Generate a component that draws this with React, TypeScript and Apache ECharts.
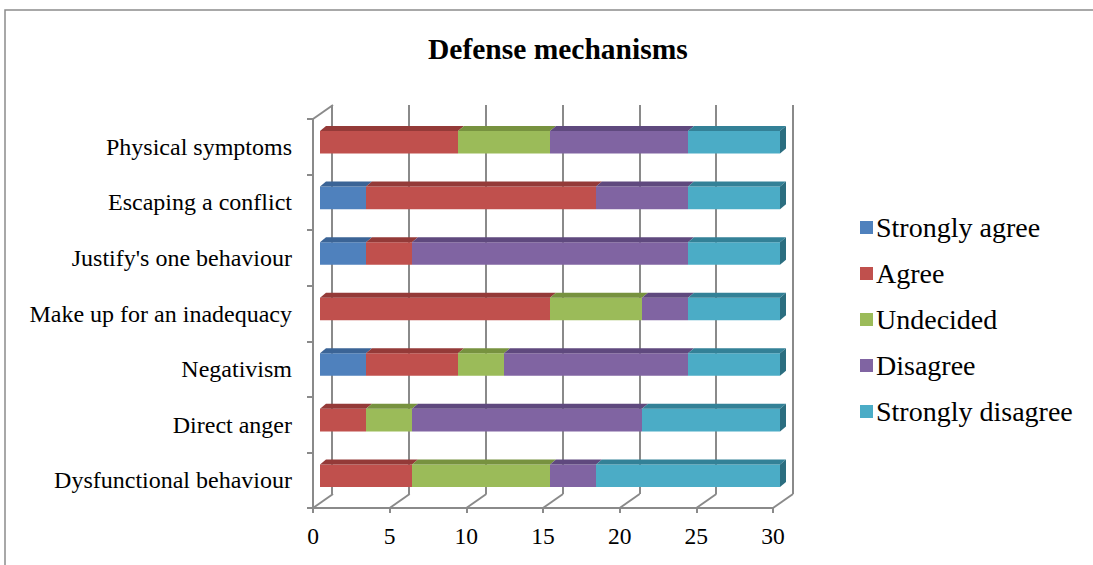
import React, { useEffect, useRef } from "react";
import * as echarts from "echarts";

const categories = [
  "Physical symptoms",
  "Escaping a conflict",
  "Justify's one behaviour",
  "Make up for an inadequacy",
  "Negativism",
  "Direct anger",
  "Dysfunctional behaviour",
];
const seriesNames = ["Strongly agree", "Agree", "Undecided", "Disagree", "Strongly disagree"];
const stronglyAgree = [0, 3, 3, 0, 3, 0, 0];
const agree = [9, 15, 3, 15, 6, 3, 6];
const undecided = [6, 0, 0, 6, 3, 3, 9];
const disagree = [9, 6, 18, 3, 12, 15, 3];
const stronglyDisagree = [6, 6, 6, 6, 6, 9, 12];
const xTicks = [0, 5, 10, 15, 20, 25, 30];

const seriesValues = [stronglyAgree, agree, undecided, disagree, stronglyDisagree];
const frontColors = ["#4F81BD", "#C0504D", "#9BBB59", "#8064A2", "#4BACC6"];
const topColors = ["#3B6496", "#943A38", "#77923F", "#5F497E", "#338197"];
const sideColors = ["#2F5381", "#7E2F2D", "#63793A", "#4F3C69", "#2B6E80"];

const FONT = '"Liberation Serif", "Times New Roman", serif';
const GRID_COLOR = "#8A8A8A";
// front plane
const FL = 313, FT = 119, FW = 460, FH = 389;
// depth of the floor / walls
const DX = 20, DY = 14;
// bars plane
const BL = 320, BT = 114.5;
const BDX = 6, BDY = 5;

export default function App() {
  const ref = useRef<HTMLDivElement>(null);
  useEffect(() => {
    document.body.style.margin = "0";
    const chart = echarts.init(ref.current!, null, { renderer: "svg" });

    const barSeries = seriesNames.map((name, si) => {
      const data: number[][] = [];
      categories.forEach((_, ci) => {
        let start = 0;
        for (let k = 0; k < si; k++) start += seriesValues[k][ci];
        const v = seriesValues[si][ci];
        if (v <= 0) return;
        let rest = 0;
        for (let k = si + 1; k < seriesValues.length; k++) rest += seriesValues[k][ci];
        data.push([start, start + v, ci, rest === 0 ? 1 : 0]);
      });
      return {
        type: "custom",
        name,
        xAxisIndex: 2,
        yAxisIndex: 2,
        itemStyle: { color: frontColors[si] },
        encode: { x: [0, 1], y: 2 },
        renderItem: (params: any, api: any) => {
          const s = api.coord([api.value(0), api.value(2)]);
          const e = api.coord([api.value(1), api.value(2)]);
          const h = api.size([0, 1])[1] * 0.406;
          const x0 = s[0], x1 = e[0], yTop = s[1] - h / 2;
          const children: any[] = [
            {
              type: "rect",
              shape: { x: x0, y: yTop, width: x1 - x0, height: h },
              style: { fill: frontColors[si] },
            },
            {
              type: "polygon",
              shape: {
                points: [
                  [x0, yTop],
                  [x1, yTop],
                  [x1 + BDX, yTop - BDY],
                  [x0 + BDX, yTop - BDY],
                ],
              },
              style: { fill: topColors[si] },
            },
          ];
          if (api.value(3) === 1) {
            children.push({
              type: "polygon",
              shape: {
                points: [
                  [x1, yTop],
                  [x1 + BDX, yTop - BDY],
                  [x1 + BDX, yTop + h - BDY],
                  [x1, yTop + h],
                ],
              },
              style: { fill: sideColors[si] },
            });
          }
          return { type: "group", children };
        },
        data,
        z: 5,
      };
    });

    const floorSeries = {
      type: "custom",
      name: "floor",
      xAxisIndex: 1,
      yAxisIndex: 1,
      silent: true,
      encode: { x: 0, y: 1 },
      renderItem: (params: any, api: any) => {
        const cs = params.coordSys;
        const x = api.coord([api.value(0), 0])[0];
        const yb = cs.y + cs.height;
        const children: any[] = [
          {
            type: "line",
            shape: { x1: x, y1: yb, x2: x + DX, y2: yb - DY },
            style: { stroke: GRID_COLOR, lineWidth: 2 },
          },
        ];
        if (params.dataIndex === 0) {
          children.push({
            type: "line",
            shape: { x1: x, y1: cs.y, x2: x + DX, y2: cs.y - DY },
            style: { stroke: GRID_COLOR, lineWidth: 2 },
          });
        }
        return { type: "group", children };
      },
      data: xTicks.map((t) => [t, 0]),
      z: 1,
    };

    chart.setOption({
      animation: false,
      backgroundColor: "#ffffff",
      title: {
        text: "Defense mechanisms",
        left: 423,
        top: 29,
        textStyle: { fontFamily: FONT, fontSize: 29.5, fontWeight: "bold", color: "#000" },
      },
      legend: {
        orient: "vertical",
        left: 855,
        top: 207,
        icon: "rect",
        itemWidth: 13,
        itemHeight: 13,
        itemGap: 15,
        data: seriesNames,
        textStyle: { fontFamily: FONT, fontSize: 28, color: "#000", lineHeight: 31, padding: [0, 0, 0, -2] },
      },
      graphic: [
        {
          type: "rect",
          shape: { x: 5, y: 10, width: 1200, height: 700 },
          style: { fill: "none", stroke: "#8C8C8C", lineWidth: 1.5 },
          silent: true,
        },
      ],
      grid: [
        { left: FL + DX - 1, top: FT - DY, width: FW + 1, height: FH, containLabel: false },
        { left: FL, top: FT, width: FW, height: FH, containLabel: false },
        { left: BL, top: BT, width: FW, height: FH, containLabel: false },
      ],
      xAxis: [
        {
          gridIndex: 0,
          type: "value",
          min: 0,
          max: 30,
          interval: 5,
          axisLine: { show: false },
          axisTick: { show: false },
          axisLabel: { show: false },
          splitLine: { show: true, lineStyle: { color: GRID_COLOR, width: 2 } },
        },
        {
          gridIndex: 1,
          type: "value",
          min: 0,
          max: 30,
          interval: 5,
          axisLine: { show: true, lineStyle: { color: GRID_COLOR, width: 2 } },
          axisTick: { show: true, length: 5, lineStyle: { color: GRID_COLOR, width: 2 } },
          axisLabel: { show: true, margin: 16, fontFamily: FONT, fontSize: 23.5, color: "#000" },
          splitLine: { show: false },
        },
        {
          gridIndex: 2,
          type: "value",
          min: 0,
          max: 30,
          show: false,
        },
      ],
      yAxis: [
        {
          gridIndex: 0,
          type: "category",
          data: categories,
          inverse: true,
          show: false,
        },
        {
          gridIndex: 1,
          type: "category",
          data: categories,
          inverse: true,
          axisLine: { show: true, lineStyle: { color: GRID_COLOR, width: 2 } },
          axisTick: { show: true, length: 6, lineStyle: { color: GRID_COLOR, width: 2 } },
          axisLabel: { show: true, margin: 21, fontFamily: FONT, fontSize: 24, color: "#000" },
          splitLine: { show: false },
        },
        {
          gridIndex: 2,
          type: "category",
          data: categories,
          inverse: true,
          show: false,
        },
      ],
      series: [floorSeries, ...barSeries],
    });
    return () => chart.dispose();
  }, []);
  return <div ref={ref} style={{ width: 1093, height: 565 }} />;
}
